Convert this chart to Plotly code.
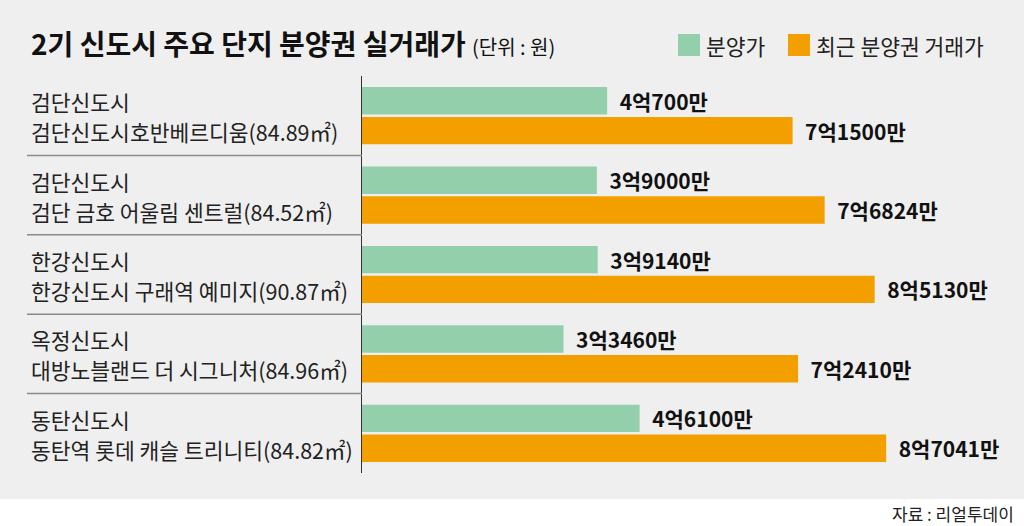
import plotly.graph_objects as go

cities = ['검단신도시', '검단신도시', '한강신도시', '옥정신도시', '동탄신도시']
complexes = [
    '검단신도시호반베르디움(84.89㎡)',
    '검단 금호 어울림 센트럴(84.52㎡)',
    '한강신도시 구래역 예미지(90.87㎡)',
    '대방노블랜드 더 시그니처(84.96㎡)',
    '동탄역 롯데 캐슬 트리니티(84.82㎡)',
]
# 단위: 만원
sale_price = [40700, 39000, 39140, 33460, 46100]
recent_price = [71500, 76824, 85130, 72410, 87041]

series_names = ['분양가', '최근 분양권 거래가']
colors = ['#94cfac', '#f49f00']

FONT = 'Noto Sans CJK KR'
BG = '#efefef'

# pixel -> paper helpers (plot area 362..1010 x, 76..473 y)
L, R, T, B = 362, 1010, 76, 473


def px_x(x):
    return (x - L) / (R - L)


def px_y(y):
    return (B - y) / (B - T)


def won_label(v):
    return f'<b>\u00a0\u00a0{v // 10000}억{v % 10000}만</b>'


fig = go.Figure()
for name, vals, col in zip(series_names, [sale_price, recent_price], colors):
    fig.add_trace(go.Bar(
        y=complexes, x=vals, orientation='h', name=name,
        marker=dict(color=col, line=dict(width=0)),
        text=[won_label(v) for v in vals],
        textposition='outside', constraintext='none', cliponaxis=False,
        textfont=dict(family=FONT, size=21, color='#111'),
        showlegend=False,
    ))

annotations = []
for city, cx in zip(cities, complexes):
    annotations.append(dict(
        x=px_x(29), xref='paper', y=cx, yref='y', xanchor='left', yanchor='middle', yshift=14,
        text=city, showarrow=False, font=dict(family=FONT, size=21.5, color='#222'),
    ))
    annotations.append(dict(
        x=px_x(29), xref='paper', y=cx, yref='y', xanchor='left', yanchor='middle', yshift=-16,
        text=cx, showarrow=False, font=dict(family=FONT, size=21.5, color='#222'),
    ))

annotations += [
    dict(x=px_x(29), y=px_y(43), xref='paper', yref='paper', xanchor='left', yanchor='middle',
         text="<b>2기 신도시 주요 단지 분양권 실거래가</b> <span style='font-size:20px'>(단위 : 원)</span>",
         showarrow=False, font=dict(family=FONT, size=28, color='#111')),
    dict(x=px_x(704), y=px_y(45), xref='paper', yref='paper', xanchor='left', yanchor='middle',
         text=series_names[0], showarrow=False, font=dict(family=FONT, size=21.5, color='#222')),
    dict(x=px_x(814), y=px_y(45), xref='paper', yref='paper', xanchor='left', yanchor='middle',
         text=series_names[1], showarrow=False, font=dict(family=FONT, size=21.5, color='#222')),
    dict(x=px_x(1016), y=px_y(513), xref='paper', yref='paper', xanchor='right', yanchor='middle',
         text='자료 : 리얼투데이', showarrow=False, font=dict(family=FONT, size=17, color='#222')),
]

shapes = [
    # white strip at the bottom
    dict(type='rect', xref='paper', yref='paper', x0=px_x(-5), x1=px_x(1030),
         y0=px_y(499), y1=px_y(530), fillcolor='white', line=dict(width=0), layer='below'),
    # legend swatches
    dict(type='rect', xref='paper', yref='paper', x0=px_x(678), x1=px_x(700),
         y0=px_y(56), y1=px_y(34), fillcolor=colors[0], line=dict(width=0)),
    dict(type='rect', xref='paper', yref='paper', x0=px_x(788), x1=px_x(810),
         y0=px_y(56), y1=px_y(34), fillcolor=colors[1], line=dict(width=0)),
]
for i in range(len(complexes) - 1):
    shapes.append(dict(type='line', xref='paper', yref='y', x0=px_x(27), x1=0,
                       y0=i + 0.5, y1=i + 0.5, line=dict(color='#8a8a8a', width=1.5)))

fig.update_layout(
    width=1024, height=526,
    margin=dict(l=L, r=1024 - R, t=T, b=526 - B, pad=0),
    paper_bgcolor=BG, plot_bgcolor=BG,
    barmode='group', bargap=0.25, bargroupgap=0.08,
    xaxis=dict(range=[0, 107600], visible=False, fixedrange=True),
    yaxis=dict(autorange='reversed', showticklabels=False, showgrid=False, zeroline=False,
               showline=True, linecolor='#333', linewidth=1, ticks='', fixedrange=True),
    annotations=annotations, shapes=shapes,
    font=dict(family=FONT),
)

fig.write_html('out.html', config={'displayModeBar': False},
               post_script="document.body.style.margin='0';document.body.style.overflow='hidden';")
